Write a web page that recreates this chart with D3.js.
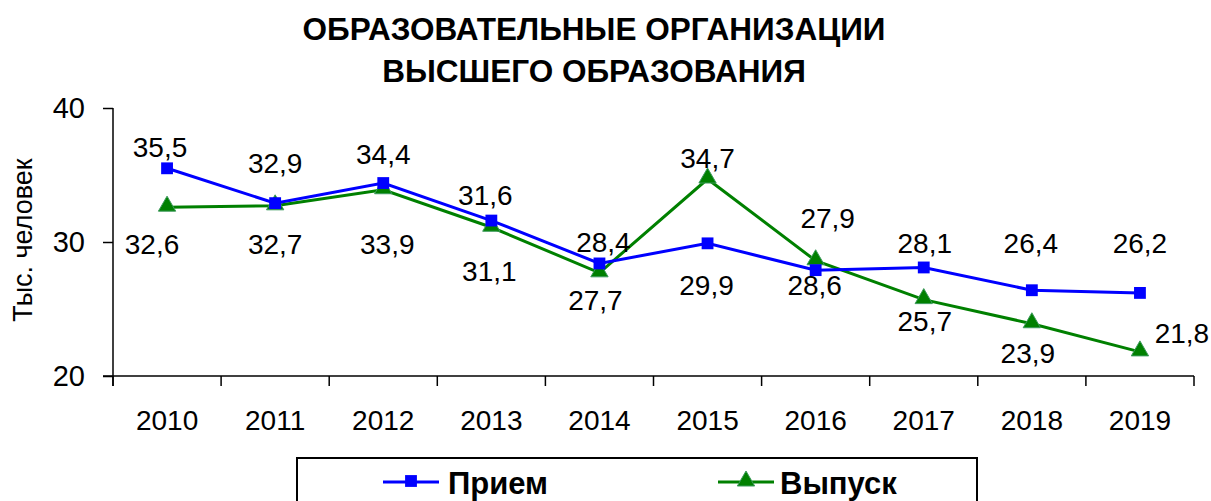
<!DOCTYPE html>
<html>
<head>
<meta charset="utf-8">
<script src="https://cdn.jsdelivr.net/npm/d3@7"></script>
<style>
  body { margin: 0; background: #fff; }
  text { font-family: "Liberation Sans", Arial, sans-serif; fill: #000; }
</style>
</head>
<body>
<div id="chart-area"></div>
<script>
// data
var years = ["2010", "2011", "2012", "2013", "2014", "2015", "2016", "2017", "2018", "2019"];
var priem = [35.5, 32.9, 34.4, 31.6, 28.4, 29.9, 27.9, 28.1, 26.4, 26.2];
var vypusk = [32.6, 32.7, 33.9, 31.1, 27.7, 34.7, 28.6, 25.7, 23.9, 21.8];
var yTicks = [20, 30, 40];
var seriesNames = ["Прием", "Выпуск"];

// label offsets from the point (dx, dy to text centre)
var priemLabelDx = [-7, 0, 0, -6, 4, -1, 12, 1, -1, 0];
var priemLabelDy = [-21, -40, -29, -25, -21, 42, -52, -24, -47, -50];
var vypuskLabelDx = [-15, 0, 4, -2, -4, 0, -1, 1, -4, 42];
var vypuskLabelDy = [37, 38, 54, 44, 27, -21, 24, 22, 29, -19];

var W = 1211, H = 501;
var svg = d3.select("#chart-area").append("svg")
  .attr("width", W).attr("height", H);

var x = d3.scaleBand().domain(years).range([113, 1194]);
var y = d3.scaleLinear().domain([20, 40]).range([376, 108]);
var cx = function(d, i) { return x(years[i]) + x.bandwidth() / 2; };

// title
svg.append("text")
  .attr("x", 594).attr("y", 40)
  .attr("text-anchor", "middle")
  .attr("font-size", "31.5px").attr("font-weight", "bold")
  .text("ОБРАЗОВАТЕЛЬНЫЕ ОРГАНИЗАЦИИ");
svg.append("text")
  .attr("x", 594).attr("y", 82)
  .attr("text-anchor", "middle")
  .attr("font-size", "31.5px").attr("font-weight", "bold")
  .text("ВЫСШЕГО ОБРАЗОВАНИЯ");

// y axis
var leftAxis = d3.axisLeft(y).tickValues(yTicks).tickSize(10).tickPadding(18)
  .tickFormat(d3.format("d"));
var gy = svg.append("g")
  .attr("transform", "translate(113,0)")
  .call(leftAxis);
gy.select(".domain").attr("stroke", "#000").attr("stroke-width", 1.5)
  .attr("d", "M0,108V386");
gy.selectAll(".tick line").attr("stroke", "#000").attr("stroke-width", 1.5);
gy.selectAll("text").attr("font-size", "29px")
  .attr("font-family", "Liberation Sans, Arial, sans-serif").attr("fill", "#000");

svg.append("text")
  .attr("transform", "translate(32,240) rotate(-90)")
  .attr("text-anchor", "middle")
  .attr("font-size", "27px")
  .text("Тыс. человек");

// x axis
var bottomAxis = d3.axisBottom(x).tickSize(0).tickPadding(0);
var gx = svg.append("g")
  .attr("transform", "translate(0,376)")
  .call(bottomAxis);
gx.select(".domain").attr("stroke", "#000").attr("stroke-width", 1.5)
  .attr("d", "M103,0H1194");
gx.selectAll("text").attr("font-size", "28px").attr("dy", null).attr("y", 54)
  .attr("font-family", "Liberation Sans, Arial, sans-serif").attr("fill", "#000");
var bounds = years.map(function(d) { return x(d); }).concat([x.range()[1]]);
gx.selectAll(".bound").data(bounds).enter().append("line")
  .attr("x1", function(d) { return d; }).attr("x2", function(d) { return d; })
  .attr("y1", 0).attr("y2", 10)
  .attr("stroke", "#000").attr("stroke-width", 1.5);

// lines
var line = d3.line().x(cx).y(function(d) { return y(d); });

svg.append("path").datum(vypusk)
  .attr("d", line).attr("fill", "none")
  .attr("stroke", "#008000").attr("stroke-width", 3);
svg.append("path").datum(priem)
  .attr("d", line).attr("fill", "none")
  .attr("stroke", "#0000ff").attr("stroke-width", 3);

var tri = d3.symbol().type(d3.symbolTriangle).size(130);
var sq = d3.symbol().type(d3.symbolSquare).size(140);

svg.selectAll(".m-v").data(vypusk).enter().append("path")
  .attr("class", "m-v")
  .attr("d", tri)
  .attr("transform", function(d, i) { return "translate(" + cx(d, i) + "," + (y(d) - 1) + ")"; })
  .attr("fill", "#008000").attr("stroke", "#3c9a5c").attr("stroke-width", 1);

svg.selectAll(".m-p").data(priem).enter().append("path")
  .attr("class", "m-p")
  .attr("d", sq)
  .attr("transform", function(d, i) { return "translate(" + cx(d, i) + "," + y(d) + ")"; })
  .attr("fill", "#0000ff");

var fmt = function(v) { return d3.format(".1f")(v).replace(".", ","); };

svg.selectAll(".l-p").data(priem).enter().append("text")
  .attr("class", "l-p")
  .attr("x", function(d, i) { return cx(d, i) + priemLabelDx[i]; })
  .attr("y", function(d, i) { return y(d) + priemLabelDy[i]; })
  .attr("dy", "0.35em")
  .attr("text-anchor", "middle").attr("font-size", "28px")
  .text(fmt);

svg.selectAll(".l-v").data(vypusk).enter().append("text")
  .attr("class", "l-v")
  .attr("x", function(d, i) { return cx(d, i) + vypuskLabelDx[i]; })
  .attr("y", function(d, i) { return y(d) + vypuskLabelDy[i]; })
  .attr("dy", "0.35em")
  .attr("text-anchor", "middle").attr("font-size", "28px")
  .text(fmt);

// legend
var legend = svg.append("g");
legend.append("rect")
  .attr("x", 297).attr("y", 458).attr("width", 680).attr("height", 60)
  .attr("fill", "#fff").attr("stroke", "#000").attr("stroke-width", 2);

var legendItems = [
  { name: seriesNames[0], color: "#0000ff", sym: sq, x0: 383, tx: 448 },
  { name: seriesNames[1], color: "#008000", sym: tri, x0: 718, tx: 780 }
];
legendItems.forEach(function(it) {
  var row = legend.append("g");
  row.append("line")
    .attr("x1", it.x0).attr("x2", it.x0 + 56)
    .attr("y1", 482).attr("y2", 482)
    .attr("stroke", it.color).attr("stroke-width", 3);
  row.append("path")
    .attr("d", it.sym)
    .attr("transform", "translate(" + (it.x0 + 28) + ",481)")
    .attr("fill", it.color)
    .attr("stroke", it.color === "#008000" ? "#3c9a5c" : "none");
  row.append("text")
    .attr("x", it.tx).attr("y", 494)
    .attr("font-size", "31px").attr("font-weight", "bold")
    .text(it.name);
});
</script>
</body>
</html>
